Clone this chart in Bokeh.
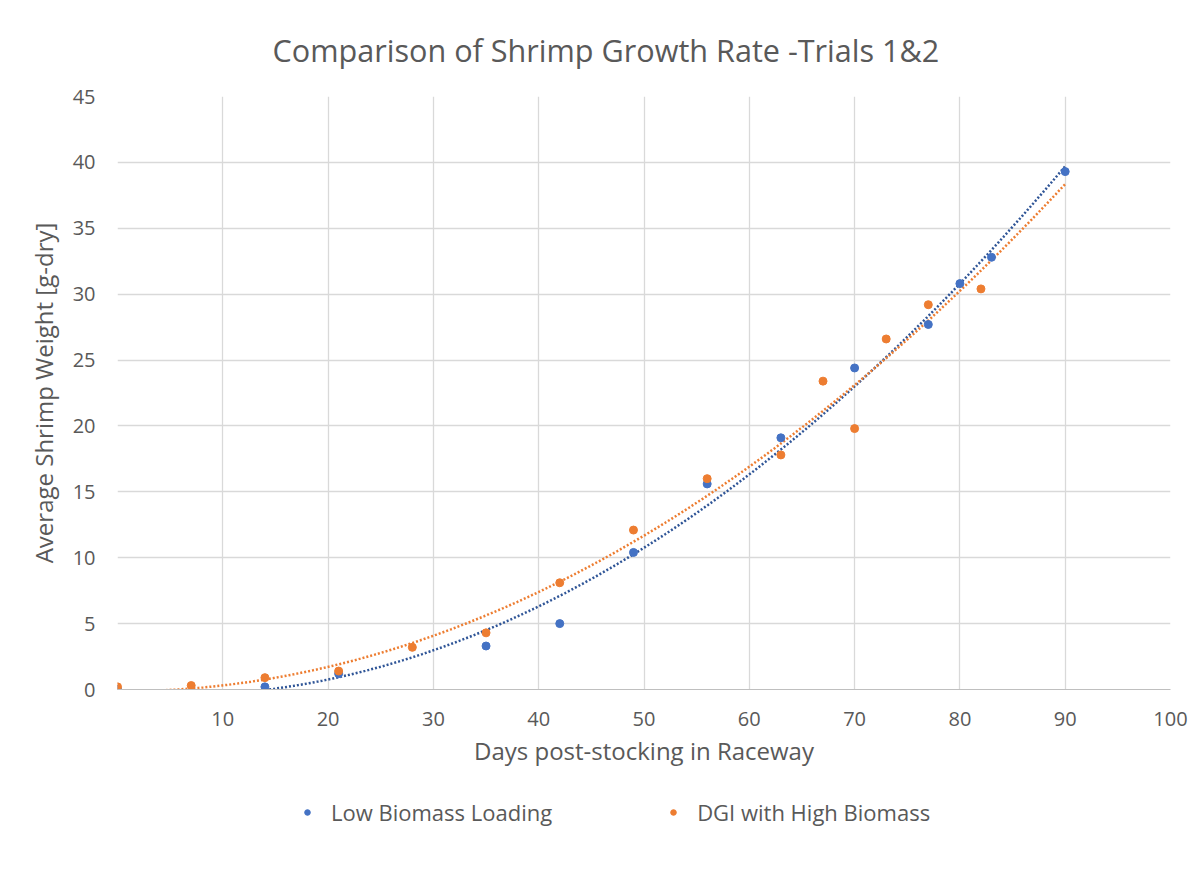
import numpy as np
from bokeh.plotting import figure
from bokeh.layouts import column
from bokeh.models import (FixedTicker, Legend, LegendItem, Title)
from bokeh.embed import file_html
from bokeh.resources import INLINE

# ---- data ----
low_days = [0, 14, 21, 35, 42, 49, 56, 63, 70, 77, 80, 83, 90]
low_weight = [0.0, 0.2, 1.2, 3.3, 5.0, 10.4, 15.6, 19.1, 24.4, 27.7, 30.8, 32.8, 39.3]

dgi_days = [0, 7, 14, 21, 28, 35, 42, 49, 56, 63, 67, 70, 73, 77, 82]
dgi_weight = [0.2, 0.3, 0.9, 1.4, 3.2, 4.3, 8.1, 12.1, 16.0, 17.8, 23.4, 19.8, 26.6, 29.2, 30.4]

x_ticks = [0, 10, 20, 30, 40, 50, 60, 70, 80, 90, 100]
y_ticks = [0, 5, 10, 15, 20, 25, 30, 35, 40, 45]

title_text = "Comparison of Shrimp Growth Rate -Trials 1&2"
x_label = "Days post-stocking in Raceway"
y_label = "Average Shrimp Weight [g-dry]"
series_names = ["Low Biomass Loading", "DGI with High Biomass"]

BLUE = "#4472C4"
ORANGE = "#ED7D31"
TXT = "#595959"
FONT = "Open Sans"

p = figure(width=1196, height=790, x_range=(0, 100), y_range=(0, 45),
           output_backend="svg", toolbar_location=None,
           min_border_left=117, min_border_right=26,
           min_border_top=96, min_border_bottom=101)
p.title = None
p.outline_line_color = None
p.background_fill_color = "white"
p.border_fill_color = "white"

t = Title(text=title_text, align="left", offset=155, text_font=FONT,
          text_font_size="30.6px", text_color=TXT, text_font_style="normal",
          standoff=52)
p.add_layout(t, "above")

# axes
p.xaxis.ticker = FixedTicker(ticks=x_ticks)
p.yaxis.ticker = FixedTicker(ticks=y_ticks)
p.xaxis.major_label_overrides = {0: ""}
for ax in (p.xaxis, p.yaxis):
    ax.major_tick_line_color = None
    ax.minor_tick_line_color = None
    ax.major_label_text_font = FONT
    ax.major_label_text_font_size = "20px"
    ax.major_label_text_color = TXT
    ax.axis_label_text_font = FONT
    ax.axis_label_text_font_size = "24px"
    ax.axis_label_text_font_style = "normal"
    ax.axis_label_text_color = TXT
p.xaxis.axis_line_color = "#bfbfbf"
p.yaxis.axis_line_color = None
p.xaxis.major_label_standoff = 16
p.yaxis.major_label_standoff = 16
p.xaxis.axis_label = x_label
p.yaxis.axis_label = y_label
p.xaxis.axis_label_standoff = 5
p.yaxis.axis_label_standoff = 10

p.xgrid.grid_line_color = "#d9d9d9"
p.ygrid.grid_line_color = "#d9d9d9"
p.xgrid.grid_line_width = 1.3
p.ygrid.grid_line_width = 1.3

# polynomial (2nd order) trendlines, as Excel draws them
xs_fit = np.linspace(0, 90, 200)
c_low = np.polyfit(low_days, low_weight, 2)
c_dgi = np.polyfit(dgi_days, dgi_weight, 2)
p.line(xs_fit, np.polyval(c_low, xs_fit), line_color="#2f5597", line_width=2.5,
       line_dash="2 2")
p.line(xs_fit, np.polyval(c_dgi, xs_fit), line_color=ORANGE, line_width=2.5,
       line_dash="2 2")

p.scatter(low_days, low_weight, size=8, color=BLUE)
p.scatter(dgi_days, dgi_weight, size=8, color=ORANGE)

# legend strip below the chart (same marker styles as the series;
# its stand-in points lie outside the strip's ranges so only the legend shows)
lg = figure(width=1196, height=80, x_range=(0, 1), y_range=(0, 1),
            output_backend="svg", toolbar_location=None,
            min_border_left=0, min_border_right=0, min_border_top=0,
            min_border_bottom=0)
lg.axis.visible = False
lg.grid.visible = False
lg.outline_line_color = None
lg_low = lg.scatter(x=[-1], y=[-1], size=8, color=BLUE)
lg_dgi = lg.scatter(x=[-1], y=[-1], size=8, color=ORANGE)
legend = Legend(items=[LegendItem(label=series_names[0], renderers=[lg_low]),
                       LegendItem(label=series_names[1], renderers=[lg_dgi])],
                orientation="horizontal", location=(183, 43),
                label_text_font=FONT, label_text_font_size="22px",
                label_text_color=TXT, spacing=114, glyph_width=14,
                label_standoff=17, border_line_color=None,
                background_fill_alpha=0)
lg.add_layout(legend, "center")

layout = column(p, lg, spacing=0)
open("out.html", "w").write(file_html(layout, INLINE))
